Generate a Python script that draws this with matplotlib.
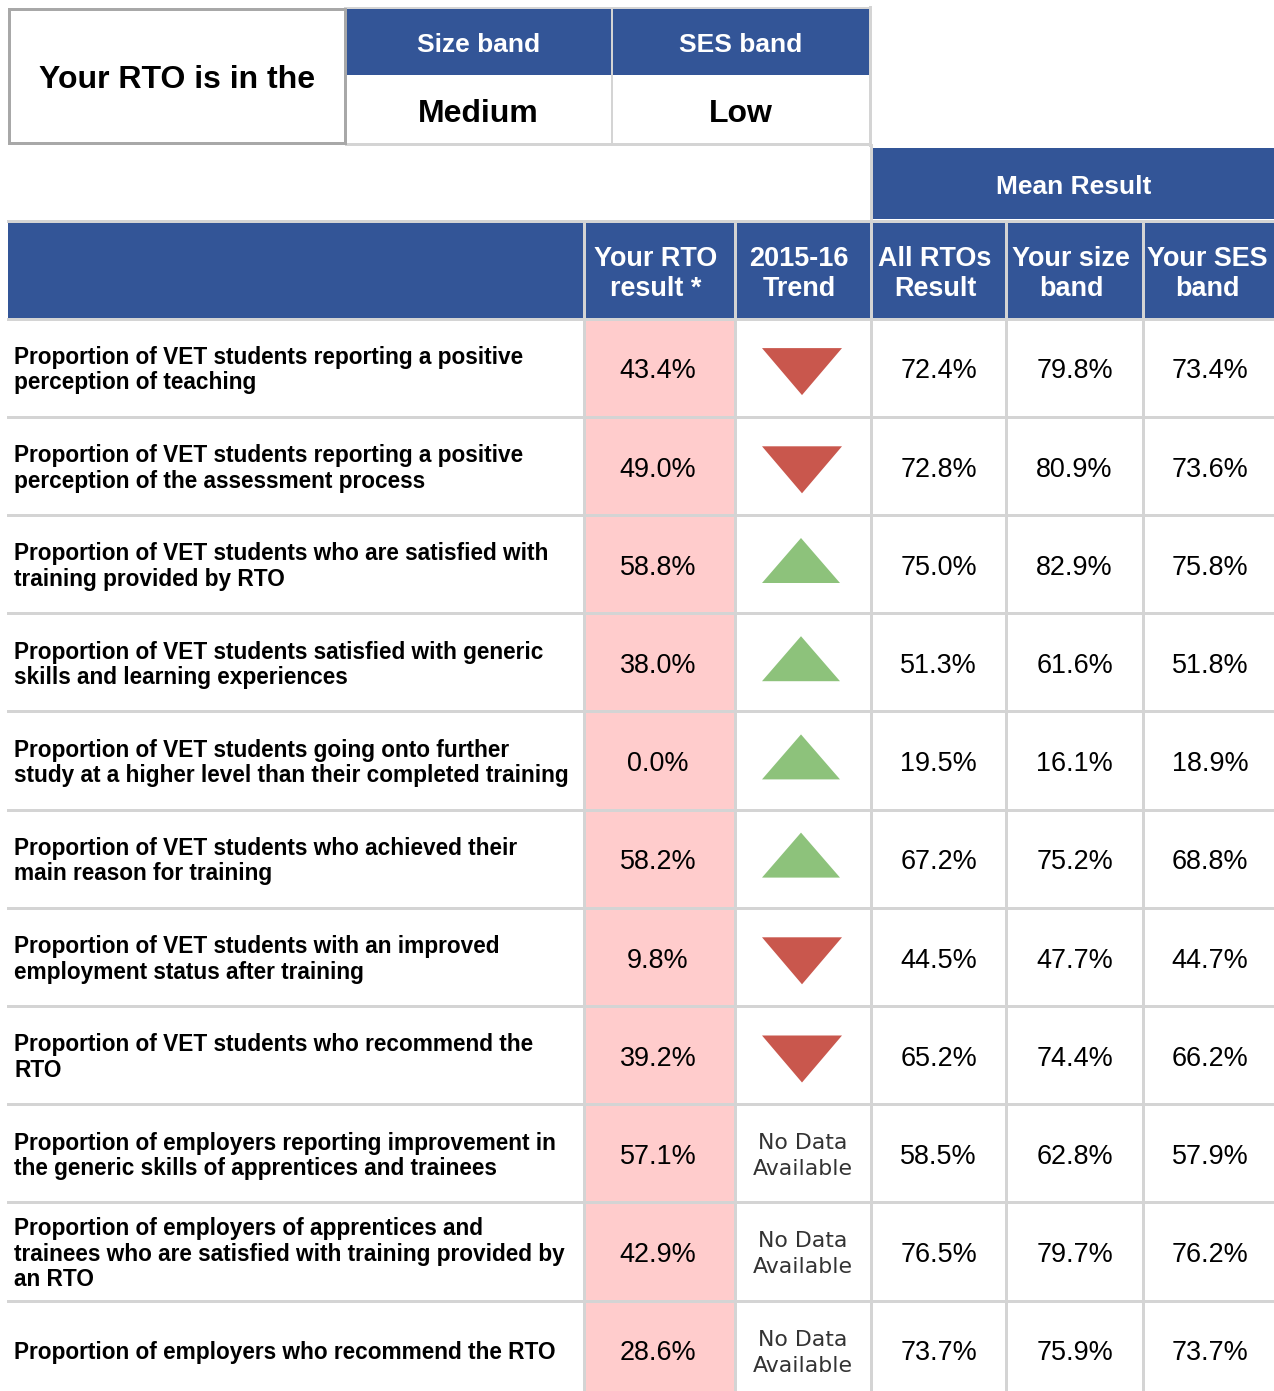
import matplotlib
matplotlib.use('Agg')
import matplotlib.pyplot as plt
from matplotlib.patches import Rectangle, Polygon

# ---------------- data ----------------
row_labels = [
    "Proportion of VET students reporting a positive\nperception of teaching",
    "Proportion of VET students reporting a positive\nperception of the assessment process",
    "Proportion of VET students who are satisfied with\ntraining provided by RTO",
    "Proportion of VET students satisfied with generic\nskills and learning experiences",
    "Proportion of VET students going onto further\nstudy at a higher level than their completed training",
    "Proportion of VET students who achieved their\nmain reason for training",
    "Proportion of VET students with an improved\nemployment status after training",
    "Proportion of VET students who recommend the\nRTO",
    "Proportion of employers reporting improvement in\nthe generic skills of apprentices and trainees",
    "Proportion of employers of apprentices and\ntrainees who are satisfied with training provided by\nan RTO",
    "Proportion of employers who recommend the RTO",
]
rto_result = [43.4, 49.0, 58.8, 38.0, 0.0, 58.2, 9.8, 39.2, 57.1, 42.9, 28.6]
trend = ['down', 'down', 'up', 'up', 'up', 'up', 'down', 'down', None, None, None]
all_rtos = [72.4, 72.8, 75.0, 51.3, 19.5, 67.2, 44.5, 65.2, 58.5, 76.5, 73.7]
size_band = [79.8, 80.9, 82.9, 61.6, 16.1, 75.2, 47.7, 74.4, 62.8, 79.7, 75.9]
ses_band = [73.4, 73.6, 75.8, 51.8, 18.9, 68.8, 44.7, 66.2, 57.9, 76.2, 73.7]
col_headers = ["Your RTO\nresult *", "2015-16\nTrend", "All RTOs\nResult",
               "Your size\nband", "Your SES\nband"]
mean_header = "Mean Result"
intro_text = "Your RTO is in the"
band_headers = ["Size band", "SES band"]
band_values = ["Medium", "Low"]
no_data_text = "No Data\nAvailable"

# ---------------- style ----------------
BLUE = '#335597'
PINK = '#ffcccc'
GRID = '#d4d4d4'
DARKGRID = '#a8a8a8'
RED = '#c9574d'
GREEN = '#8dc27b'
FONT = 'Liberation Sans'

W, H = 1274, 1391
fig = plt.figure(figsize=(W / 100, H / 100), dpi=100)
ax = fig.add_axes([0, 0, 1, 1])
ax.set_xlim(0, W)
ax.set_ylim(H, 0)
ax.axis('off')

PT = 0.72  # px -> pt at 100 dpi


def text_lines(x, yc, text, size_px, pitch, ha='center', family=FONT,
               weight='normal', color='black'):
    lines = text.split('\n')
    n = len(lines)
    for k, ln in enumerate(lines):
        y = yc + (k - (n - 1) / 2) * pitch
        ax.text(x, y + 0.36 * size_px, ln, fontsize=size_px * PT, ha=ha,
                va='baseline', family=family, fontweight=weight, color=color)


def rect(x0, y0, x1, y1, fc, ec='none', lw=0, z=1):
    ax.add_patch(Rectangle((x0, y0), x1 - x0, y1 - y0, facecolor=fc,
                           edgecolor=ec, linewidth=lw * PT, zorder=z))


# ---------------- top band box ----------------
rect(346, 9, 611, 75, BLUE, z=1)
rect(612, 9, 869, 75, BLUE, z=1)
ax.plot([346, 870], [144, 144], color=GRID, lw=3 * PT, zorder=2)
ax.plot([870, 870], [7, 145], color=GRID, lw=3 * PT, zorder=2)
ax.plot([345, 870], [7.5, 7.5], color=GRID, lw=2 * PT, zorder=2)
ax.plot([611.5, 611.5], [8, 144], color=GRID, lw=2 * PT, zorder=2)
rect(8.5, 8.5, 345, 143, 'white', DARKGRID, 3, z=3)
text_lines(177, 76, intro_text, 32, 30, weight='bold')
band_cx = [478.5, 740.5]
for cx, hdr, val in zip(band_cx, band_headers, band_values):
    text_lines(cx, 42, hdr, 26.4, 30, weight='bold', color='white')
    text_lines(cx, 110, val, 32, 30, weight='bold')

# ---------------- mean result header ----------------
rect(872, 148, W, 219, BLUE)
ax.plot([870.5, 870.5], [145, 222], color=GRID, lw=3 * PT, zorder=2)
text_lines(1074, 184, mean_header, 26.4, 30, weight='bold', color='white')

# ---------------- main table ----------------
col_edges = [8, 584, 735, 871, 1006, 1143, W]
hdr_top, hdr_bot = 222, 319
row_top = 320
n = len(row_labels)
row_h = 98.2

rect(8, hdr_top, W, hdr_bot, BLUE)
rect(col_edges[1], row_top, col_edges[2], H, PINK, z=0.5)

# grid lines
ax.plot([8, W], [220.5, 220.5], color=GRID, lw=3 * PT, zorder=2)
ax.plot([8, W], [hdr_bot, hdr_bot], color=GRID, lw=3 * PT, zorder=2)
for i in range(1, n):
    y = row_top + i * row_h - 1.5
    ax.plot([8, W], [y, y], color=GRID, lw=3 * PT, zorder=2)
for x in col_edges[1:-1]:
    ax.plot([x - 0.5, x - 0.5], [hdr_top - 1, H], color=GRID, lw=3 * PT, zorder=2)

# column headers
hdr_cx = [656, 799, 935, 1071, 1207]
for cx, hdr in zip(hdr_cx, col_headers):
    text_lines(cx, 271, hdr, 27, 30, weight='bold', color='white')

val_cx = [658, 938.5, 1074.5, 1210]

# rows
for i in range(n):
    yc = row_top + (i + 0.5) * row_h - 1.5
    text_lines(14, yc + 1, row_labels[i], 22.6, 25.5, ha='left', weight='bold')
    for cx, vals in zip(val_cx, [rto_result, all_rtos, size_band, ses_band]):
        text_lines(cx, yc + 1, f"{vals[i]:.1f}%", 27, 30)
    t = trend[i]
    if t == 'down':
        cy = yc + 4
        ax.add_patch(Polygon([(762, cy - 23.5), (842, cy - 23.5), (802, cy + 23.5)],
                             closed=True, facecolor=RED, edgecolor='none', zorder=3))
    elif t == 'up':
        cy = yc - 3.5
        ax.add_patch(Polygon([(762, cy + 22.5), (840, cy + 22.5), (801, cy - 22.5)],
                             closed=True, facecolor=GREEN, edgecolor='none', zorder=3))
    else:
        text_lines(803, yc + 1, no_data_text, 22, 26, family='DejaVu Sans',
                   color='#333333')

fig.savefig('out.png', dpi=100)
